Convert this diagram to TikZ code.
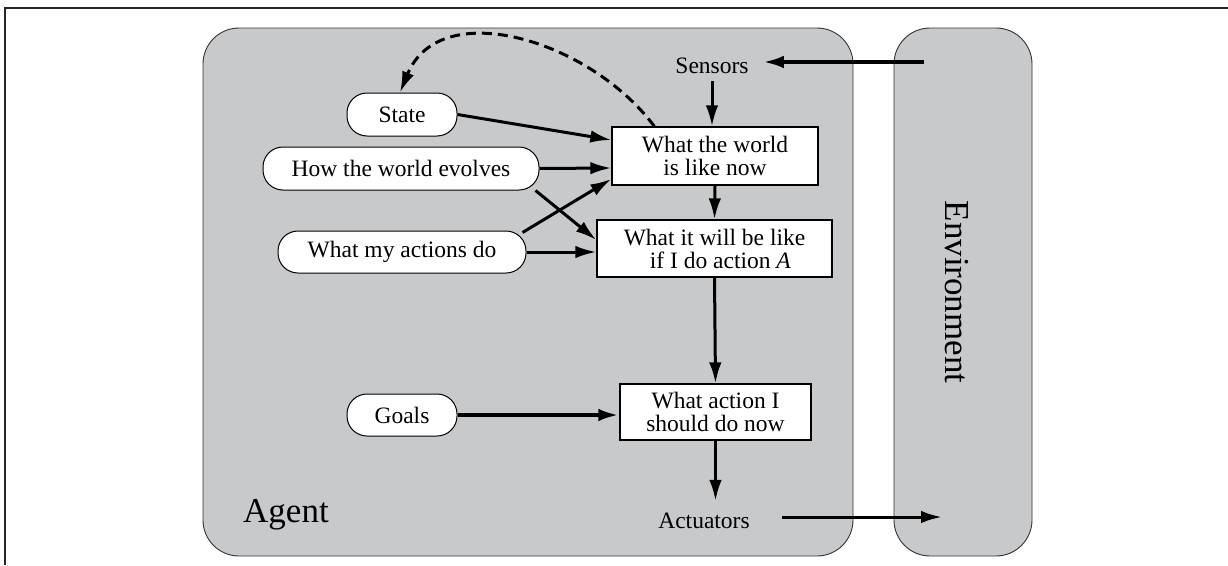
\documentclass[tikz,border=0pt]{standalone}
\usepackage{fontspec}
\setmainfont{Liberation Serif}
\usetikzlibrary{arrows.meta}
\definecolor{panel}{RGB}{200,201,203}
\tikzset{
  pill/.style={draw=black, line width=1pt, fill=white, rounded corners=20pt, inner sep=0pt, font=\fontsize{23.5}{23}\selectfont},
  rect/.style={draw=black, line width=1.3pt, fill=white, inner sep=0pt, align=center, font=\fontsize{23.5}{23}\selectfont},
  lbl/.style={inner sep=0pt, font=\fontsize{23.5}{23}\selectfont},
  big/.style={inner sep=0pt, font=\fontsize{35}{35}\selectfont},
  tip/.style={-{Latex[length=21pt,width=12.5pt]}},
  conn/.style={line width=3pt, tip},
  panelbox/.style={draw=black!80, line width=0.9pt, fill=panel, rounded corners=36pt}
}
\begin{document}
\begin{tikzpicture}[x=1pt,y=-1pt]
\useasboundingbox (0,0) rectangle (1228,565);
% frame
\draw[line width=1.6pt, black!85] (5,565) -- (5,8) -- (1228,8);
% panels
\draw[panelbox] (203,28) rectangle (853,556);
\draw[panelbox] (894,28) rectangle (1032,556);
\node[big, anchor=base west] (agent) at (243,522) {Agent};
\node[big, rotate=-90] (env) at (957,292) {Environment};
% boxes
\node[rect, minimum width=206pt, minimum height=58pt] (now) at (715,156) {What the world\\is like now};
\node[rect, minimum width=235pt, minimum height=57pt] (will) at (714.5,248.5) {What it will be like\\\ \ if I do action \textit{A}};
\node[rect, minimum width=191pt, minimum height=56pt] (act) at (715.5,412) {What action I\\should do now};
% pills
\node[pill, minimum width=110pt, minimum height=43pt] (state) at (402,114.5) {State};
\node[pill, minimum width=276pt, minimum height=43pt] (how) at (401,168.5) {How the world evolves};
\node[pill, minimum width=248pt, minimum height=42pt] (mine) at (402,252) {What my actions do};
\node[pill, minimum width=110pt, minimum height=42pt] (goals) at (402,415) {Goals};
% labels
\node[lbl] (sensors) at (712,66) {Sensors};
\node[lbl] (actuators) at (704,521) {Actuators};
\coordinate (envin) at (924,62);
\coordinate (envout) at (942,517);
% connectors
\draw[line width=4pt, tip] (envin) -- ([xshift=14pt]sensors.east |- envin);
\draw[conn] ([yshift=-7pt]sensors.south) -- (sensors.south |- now.north);
\draw[conn] (state.east) -- (now.west |- 0,140);
\draw[conn] (how.east) -- (now.west |- 0,168);
\draw[conn] ([xshift=-4pt]how.south east) -- (will.west |- 0,240);
\draw[conn] ([shift={(-4pt,-2pt)}]mine.north east) -- (now.west |- 0,179);
\draw[conn] (mine.east) -- (will.west |- 0,252);
\draw[conn] (now.south) -- (will.north);
\draw[conn] (will.south) -- (act.north);
\draw[line width=4.5pt, tip] (goals.east) -- (act.west |- goals.east);
\draw[conn] (act.south) -- ([yshift=12pt]act.south |- actuators.north);
\draw[conn] ([shift={(32pt,4pt)}]actuators.east) -- (envout);
\draw[line width=3pt, dash pattern=on 10pt off 6pt, tip]
  ([xshift=43pt]now.north west) .. controls (590,40) and (440,-5) .. ([xshift=-2pt]state.north);
\end{tikzpicture}
\end{document}
